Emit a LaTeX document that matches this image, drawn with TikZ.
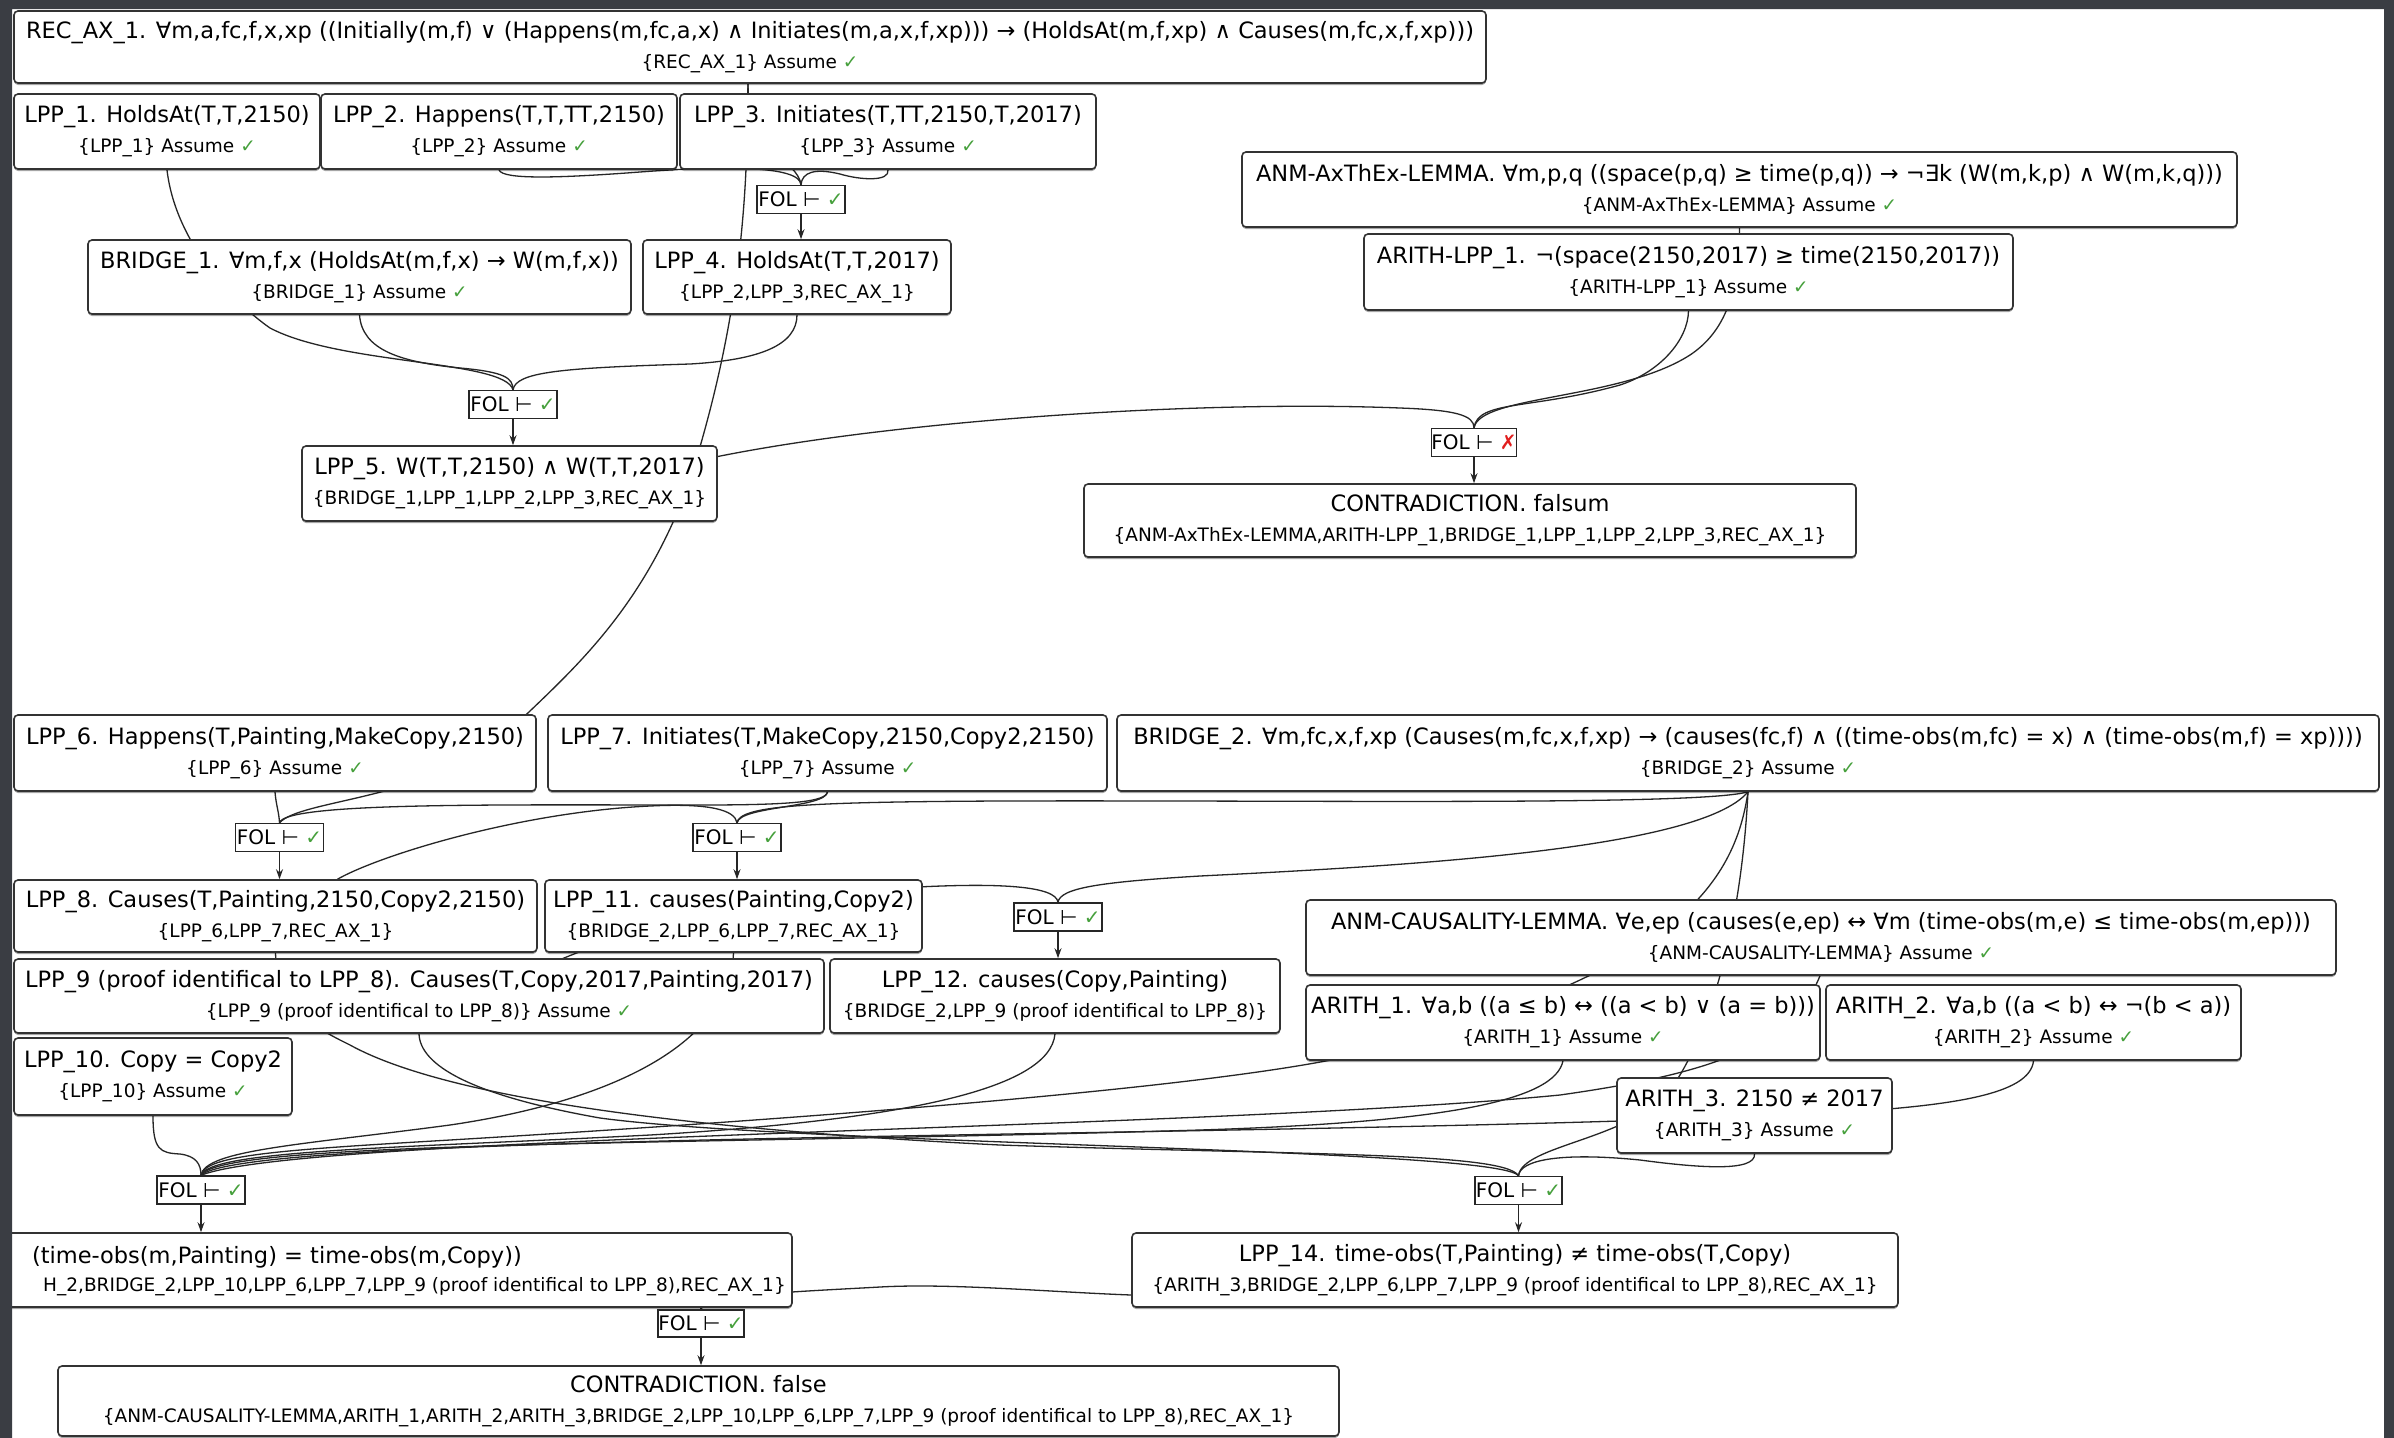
\documentclass[tikz,border=0pt]{standalone}
\usepackage{fontspec}
\setmainfont{DejaVu Sans}
\usetikzlibrary{arrows.meta,shadows,calc}
\definecolor{okgreen}{RGB}{70,160,60}
\definecolor{badred}{RGB}{225,30,30}
\definecolor{darkbg}{RGB}{58,61,67}
\newcommand\myfa{\fontsize{22.5}{30}\selectfont}
\newcommand\myfb{\fontsize{18.5}{30}\selectfont}
\newcommand\myfc{\fontsize{20}{24}\selectfont}
\newcommand\mychk{\textcolor{okgreen}{✓}}
\newcommand\mycross{\textcolor{badred}{✗}}
\pgfdeclarelayer{page}\pgfdeclarelayer{edges}\pgfdeclarelayer{frame}
\pgfsetlayers{page,edges,main,frame}
\begin{document}
\begin{tikzpicture}[x=1pt,y=-1pt,
  box/.style={draw=black!80, line width=1.6pt, rounded corners=4pt, fill=white, align=center, inner sep=0pt, font=\myfa,
    drop shadow={shadow xshift=0pt,shadow yshift=-2pt,opacity=0.35,fill=black}},
  fol/.style={draw=black!85, line width=1.4pt, fill=white, inner sep=0pt, font=\myfc, minimum width=88, minimum height=28},
  edge/.style={line width=1.3pt, draw=black!85},
  arr/.style={line width=1.3pt, draw=black!85, -{Stealth[length=10pt,width=7pt]}}]
\useasboundingbox (0,0) rectangle (2394,1438);
\begin{pgfonlayer}{page}\fill[white] (0,0) rectangle (2394,1438);\end{pgfonlayer}

% ---------- nodes ----------
\node[box, minimum width=1472, minimum height=72] (rec) at (750,47) {REC\_AX\_1. ∀m,a,fc,f,x,xp ((Initially(m,f) ∨ (Happens(m,fc,a,x) ∧ Initiates(m,a,x,f,xp))) → (HoldsAt(m,f,xp) ∧ Causes(m,fc,x,f,xp)))\\{\myfb \{REC\_AX\_1\} Assume \mychk}};
\node[box, minimum width=306, minimum height=75] (lpp1) at (167,131.5) {LPP\_1. HoldsAt(T,T,2150)\\{\myfb \{LPP\_1\} Assume \mychk}};
\node[box, minimum width=356, minimum height=75] (lpp2) at (499,131.5) {LPP\_2. Happens(T,T,TT,2150)\\{\myfb \{LPP\_2\} Assume \mychk}};
\node[box, minimum width=416, minimum height=75] (lpp3) at (888,131.5) {LPP\_3. Initiates(T,TT,2150,T,2017)\\{\myfb \{LPP\_3\} Assume \mychk}};
\node[box, minimum width=995, minimum height=75] (anm1) at (1739.5,189.5) {ANM-AxThEx-LEMMA. ∀m,p,q ((space(p,q) ≥ time(p,q)) → ¬∃k (W(m,k,p) ∧ W(m,k,q)))\\{\myfb \{ANM-AxThEx-LEMMA\} Assume \mychk}};
\node[fol] (fol1) at (801,199.5) {FOL ⊢ \mychk};
\node[box, minimum width=543, minimum height=74] (bridge1) at (359.5,277) {BRIDGE\_1. ∀m,f,x (HoldsAt(m,f,x) → W(m,f,x))\\{\myfb \{BRIDGE\_1\} Assume \mychk}};
\node[box, minimum width=308, minimum height=74] (lpp4) at (797,277) {LPP\_4. HoldsAt(T,T,2017)\\{\myfb \{LPP\_2,LPP\_3,REC\_AX\_1\}}};
\node[box, minimum width=649, minimum height=76] (arlpp1) at (1688.5,272) {ARITH-LPP\_1. ¬(space(2150,2017) ≥ time(2150,2017))\\{\myfb \{ARITH-LPP\_1\} Assume \mychk}};
\node[fol] (fol5) at (513,404.5) {FOL ⊢ \mychk};
\node[box, minimum width=415, minimum height=75] (lpp5) at (509.5,483.5) {LPP\_5. W(T,T,2150) ∧ W(T,T,2017)\\{\myfb \{BRIDGE\_1,LPP\_1,LPP\_2,LPP\_3,REC\_AX\_1\}}};
\node[fol, minimum width=82] (folx) at (1474,442.5) {FOL ⊢ \mycross};
\node[box, minimum width=772, minimum height=73] (falsum) at (1470,520.5) {CONTRADICTION. falsum\\{\myfb \{ANM-AxThEx-LEMMA,ARITH-LPP\_1,BRIDGE\_1,LPP\_1,LPP\_2,LPP\_3,REC\_AX\_1\}}};

\node[box, minimum width=522, minimum height=76] (lpp6) at (275,753) {LPP\_6. Happens(T,Painting,MakeCopy,2150)\\{\myfb \{LPP\_6\} Assume \mychk}};
\node[box, minimum width=559, minimum height=76] (lpp7) at (827.5,753) {LPP\_7. Initiates(T,MakeCopy,2150,Copy2,2150)\\{\myfb \{LPP\_7\} Assume \mychk}};
\node[box, minimum width=1262, minimum height=76] (bridge2) at (1748,753) {BRIDGE\_2. ∀m,fc,x,f,xp (Causes(m,fc,x,f,xp) → (causes(fc,f) ∧ ((time-obs(m,fc) = x) ∧ (time-obs(m,f) = xp))))\\{\myfb \{BRIDGE\_2\} Assume \mychk}};
\node[fol] (fol8) at (279.5,837.5) {FOL ⊢ \mychk};
\node[fol] (fol11) at (737,837.5) {FOL ⊢ \mychk};
\node[box, minimum width=523, minimum height=72] (lpp8) at (275.5,916) {LPP\_8. Causes(T,Painting,2150,Copy2,2150)\\{\myfb \{LPP\_6,LPP\_7,REC\_AX\_1\}}};
\node[box, minimum width=377, minimum height=72] (lpp11) at (733.5,916) {LPP\_11. causes(Painting,Copy2)\\{\myfb \{BRIDGE\_2,LPP\_6,LPP\_7,REC\_AX\_1\}}};
\node[fol] (fol12) at (1058,917) {FOL ⊢ \mychk};
\node[box, minimum width=1030, minimum height=75] (anmc) at (1821,937.5) {ANM-CAUSALITY-LEMMA. ∀e,ep (causes(e,ep) ↔ ∀m (time-obs(m,e) ≤ time-obs(m,ep)))\\{\myfb \{ANM-CAUSALITY-LEMMA\} Assume \mychk}};
\node[box, minimum width=810, minimum height=74] (lpp9) at (419,996) {LPP\_9 (proof identifical to LPP\_8). Causes(T,Copy,2017,Painting,2017)\\{\myfb \{LPP\_9 (proof identifical to LPP\_8)\} Assume \mychk}};
\node[box, minimum width=450, minimum height=74] (lpp12) at (1055,996) {LPP\_12. causes(Copy,Painting)\\{\myfb \{BRIDGE\_2,LPP\_9 (proof identifical to LPP\_8)\}}};
\node[box, minimum width=514, minimum height=75] (arith1) at (1563,1022.5) {ARITH\_1. ∀a,b ((a ≤ b) ↔ ((a < b) ∨ (a = b)))\\{\myfb \{ARITH\_1\} Assume \mychk}};
\node[box, minimum width=415, minimum height=75] (arith2) at (2033.5,1022.5) {ARITH\_2. ∀a,b ((a < b) ↔ ¬(b < a))\\{\myfb \{ARITH\_2\} Assume \mychk}};
\node[box, minimum width=278, minimum height=77] (lpp10) at (153,1076.5) {LPP\_10. Copy = Copy2\\{\myfb \{LPP\_10\} Assume \mychk}};
\node[box, minimum width=275, minimum height=75] (arith3) at (1754.5,1115.5) {ARITH\_3. 2150 ≠ 2017\\{\myfb \{ARITH\_3\} Assume \mychk}};
\node[fol] (fol13) at (201,1190) {FOL ⊢ \mychk};
\node[fol, minimum width=87] (fol14) at (1518.5,1190.5) {FOL ⊢ \mychk};
\node[box, minimum width=822, minimum height=74] (lpp13) at (381,1270) {};
\node[font=\myfa, anchor=east, inner sep=0pt] (lpp13a) at (522,1257) {(time-obs(m,Painting) = time-obs(m,Copy))};
\node[font=\myfb, anchor=east, inner sep=0pt] (lpp13b) at (786,1287) {H\_2,BRIDGE\_2,LPP\_10,LPP\_6,LPP\_7,LPP\_9 (proof identifical to LPP\_8),REC\_AX\_1\}};
\node[box, minimum width=766, minimum height=74] (lpp14) at (1515,1270) {LPP\_14. time-obs(T,Painting) ≠ time-obs(T,Copy)\\{\myfb \{ARITH\_3,BRIDGE\_2,LPP\_6,LPP\_7,LPP\_9 (proof identifical to LPP\_8),REC\_AX\_1\}}};
\node[fol, minimum width=86, minimum height=27] (folb) at (701,1323.5) {FOL ⊢ \mychk};
\node[box, minimum width=1281, minimum height=70] (false) at (698.5,1401) {CONTRADICTION. false\\{\myfb \{ANM-CAUSALITY-LEMMA,ARITH\_1,ARITH\_2,ARITH\_3,BRIDGE\_2,LPP\_10,LPP\_6,LPP\_7,LPP\_9 (proof identifical to LPP\_8),REC\_AX\_1\}}};

% ---------- connectors ----------
\begin{pgfonlayer}{edges}
% top
\draw[edge] ([xshift=-2pt]rec.south) .. controls (748,150) and (798,160) .. (fol1.north);
\draw[edge] (lpp2.south) .. controls (502,180) and (560,178) .. (640,172) .. controls (720,166) and (800,165) .. (fol1.north);
\draw[edge] (lpp3.south) .. controls (890,182) and (860,180) .. (840,174) .. controls (815,168) and (802,172) .. (fol1.north);
\draw[edge] ([xshift=-2pt]rec.south) -- (746,169) .. controls (740,300) and (715,400) .. (690,480) .. controls (640,620) and (560,680) .. (500,740) .. controls (420,800) and (300,800) .. (fol8.north);
\draw[edge] (lpp1.south) .. controls (175,240) and (230,300) .. (270,328) .. controls (340,365) and (505,360) .. (fol5.north);
\draw[edge] (bridge1.south) .. controls (362,350) and (400,362) .. (460,368) .. controls (505,372) and (513,378) .. (fol5.north);
\draw[edge] (lpp4.south) .. controls (797,345) and (760,360) .. (690,364) .. controls (560,368) and (516,372) .. (fol5.north);
\draw[edge] ([yshift=27pt]lpp5.east) .. controls (900,420) and (1200,400) .. (1400,408) .. controls (1455,410) and (1474,415) .. (folx.north);
\draw[edge] (anm1.south) .. controls (1740,300) and (1720,335) .. (1690,355) .. controls (1620,400) and (1480,395) .. (folx.north);
\draw[edge] (arlpp1.south) .. controls (1688,340) and (1660,372) .. (1620,385) .. controls (1530,410) and (1478,400) .. (folx.north);
% middle
\draw[edge] (lpp6.south) .. controls (276,805) and (279,812) .. (fol8.north);
\draw[edge] (lpp7.south) .. controls (826,802) and (790,805) .. (700,805) .. controls (500,805) and (285,802) .. (fol8.north);
\draw[edge] (lpp7.south) .. controls (826,808) and (740,806) .. (fol11.north);
\draw[edge] (bridge2.south) .. controls (1700,806) and (1300,800) .. (1000,801) .. controls (800,802) and (740,806) .. (fol11.north);
\draw[edge] ([xshift=62pt]lpp8.north) .. controls (380,855) and (520,812) .. (650,806) .. controls (710,803) and (735,810) .. (fol11.north);
\draw[edge] (bridge2.south) .. controls (1700,850) and (1400,866) .. (1200,876) .. controls (1100,882) and (1060,888) .. (fol12.north);
\draw[edge] ([xshift=80pt]lpp9.center) .. controls (530,960) and (700,900) .. (900,888) .. controls (1000,882) and (1056,886) .. (fol12.north);
% lower tangle
\draw[edge] (lpp8.south) .. controls (277,1010) and (320,1030) .. (350,1045) .. controls (450,1100) and (700,1130) .. (1000,1145) .. controls (1300,1155) and (1505,1152) .. (fol14.north);
\draw[edge] (lpp9.south) .. controls (420,1065) and (470,1095) .. (600,1118) .. controls (800,1145) and (1500,1148) .. (fol14.north);
\draw[edge] (lpp11.south) .. controls (730,1040) and (620,1100) .. (450,1125) .. controls (300,1145) and (205,1150) .. (fol13.north);
\draw[edge] (lpp12.south) .. controls (1050,1090) and (900,1120) .. (650,1135) .. controls (400,1148) and (210,1150) .. (fol13.north);
\draw[edge] (lpp10.south) .. controls (153,1150) and (160,1153) .. (180,1154) .. controls (196,1156) and (201,1164) .. (fol13.north);
\draw[edge] (bridge2.south) .. controls (1735,880) and (1680,980) .. (1331,1060) .. controls (1150,1095) and (700,1125) .. (450,1140) .. controls (280,1150) and (205,1155) .. (fol13.north);
\draw[edge] ([xshift=-1pt]anmc.south) .. controls (1790,1050) and (1700,1075) .. (1560,1095) .. controls (1200,1130) and (300,1135) .. (fol13.north);
\draw[edge] (arith1.south) .. controls (1555,1100) and (1450,1122) .. (1200,1130) .. controls (700,1145) and (220,1140) .. (fol13.north);
\draw[edge] (arith2.south) .. controls (2030,1095) and (1950,1105) .. (1850,1112) .. controls (1300,1140) and (250,1130) .. (fol13.north);
\draw[edge] (bridge2.south) .. controls (1740,950) and (1700,1050) .. (1670,1090) .. controls (1630,1140) and (1522,1145) .. (fol14.north);
\draw[edge] (arith3.south) .. controls (1756,1172) and (1700,1168) .. (1640,1160) .. controls (1560,1152) and (1520,1160) .. (fol14.north);
% bottom
\draw[edge] (folb.north |- lpp13.south) -- (folb.north);
\draw[edge] ([yshift=-25pt]lpp14.west) .. controls (1050,1292) and (950,1283) .. (880,1287) .. controls (790,1292) and (705,1295) .. (folb.north);
\end{pgfonlayer}

% ---------- inference arrows ----------
\draw[arr] (fol1.south) -- (fol1.south |- lpp4.north);
\draw[arr] (fol5.south) -- (fol5.south |- lpp5.north);
\draw[arr] (folx.south) -- (folx.south |- falsum.north);
\draw[arr] (fol8.south) -- (fol8.south |- lpp8.north);
\draw[arr] (fol11.south) -- (fol11.south |- lpp11.north);
\draw[arr] (fol12.south) -- (fol12.south |- lpp12.north);
\draw[arr] (fol13.south) -- (fol13.south |- lpp13.north);
\draw[arr] (fol14.south) -- (fol14.south |- lpp14.north);
\draw[arr] (folb.south) -- (folb.south |- false.north);

\begin{pgfonlayer}{frame}
\fill[darkbg, even odd rule] (-5,-5) rectangle (2400,1445) (12,9) rectangle (2384,1450);
\end{pgfonlayer}
\end{tikzpicture}
\end{document}
